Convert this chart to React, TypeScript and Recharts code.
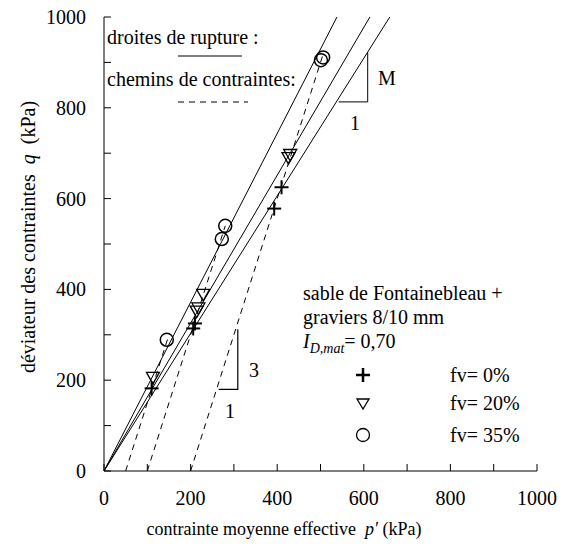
import { ComposedChart, Scatter, XAxis, YAxis } from "recharts";

// measured points (p', q) in kPa
const crosses = [
  { p: 110, q: 182 },
  { p: 206, q: 314 },
  { p: 210, q: 325 },
  { p: 393, q: 578 },
  { p: 410, q: 625 },
];
const triangles = [
  { p: 113, q: 205 },
  { p: 214, q: 351 },
  { p: 218, q: 358 },
  { p: 229, q: 388 },
  { p: 426, q: 689 },
  { p: 430, q: 696 },
];
const circles = [
  { p: 145, q: 289 },
  { p: 272, q: 511 },
  { p: 280, q: 540 },
  { p: 501, q: 905 },
  { p: 506, q: 911 },
];

// failure lines through the origin
const ruptureLines = [
  [{ p: 0, q: 0 }, { p: 660, q: 1000 }],
  [{ p: 0, q: 0 }, { p: 614, q: 1000 }],
  [{ p: 0, q: 0 }, { p: 538, q: 1000 }],
];
// stress paths, slope 3
const stressPaths = [
  [{ p: 50, q: 0 }, { p: 147, q: 291 }],
  [{ p: 100, q: 0 }, { p: 280, q: 540 }],
  [{ p: 200, q: 0 }, { p: 505, q: 915 }],
];
// slope marks
const slopeM = [{ p: 542, q: 813 }, { p: 609, q: 813 }, { p: 609, q: 922 }];
const slope3 = [{ p: 265, q: 180 }, { p: 309, q: 180 }, { p: 309, q: 312 }];

const xTicks = [0, 100, 200, 300, 400, 500, 600, 700, 800, 900, 1000];
const yTicks = [0, 100, 200, 300, 400, 500, 600, 700, 800, 900, 1000];

const FONT = "'Liberation Serif', 'Times New Roman', serif";
const TICK_LEN = 7;

const BottomTick = (props: any) => {
  const { x, y, payload } = props;
  return (
    <g>
      <line x1={x} y1={y} x2={x} y2={y - TICK_LEN} stroke="#000" />
      {payload.value % 200 === 0 && (
        <text x={x} y={y + 34} textAnchor="middle" fontSize={20} fontFamily={FONT} fill="#000">
          {payload.value}
        </text>
      )}
    </g>
  );
};

const LeftTick = (props: any) => {
  const { x, y, payload } = props;
  return (
    <g>
      <line x1={x} y1={y} x2={x + TICK_LEN} y2={y} stroke="#000" />
      {payload.value % 200 === 0 && (
        <text x={x - 18} y={y + 7} textAnchor="end" fontSize={20} fontFamily={FONT} fill="#000">
          {payload.value}
        </text>
      )}
    </g>
  );
};

const TopTick = (props: any) => {
  const { x, y } = props;
  return <line x1={x} y1={y} x2={x} y2={y + TICK_LEN} stroke="#000" />;
};

const RightTick = (props: any) => {
  const { x, y } = props;
  return <line x1={x} y1={y} x2={x - TICK_LEN} y2={y} stroke="#000" />;
};

const Cross = (props: any) => {
  const { cx, cy } = props;
  return (
    <g>
      <line x1={cx - 7} y1={cy} x2={cx + 7} y2={cy} stroke="#000" strokeWidth={2} />
      <line x1={cx} y1={cy - 7} x2={cx} y2={cy + 7} stroke="#000" strokeWidth={2} />
    </g>
  );
};

const Triangle = (props: any) => {
  const { cx, cy } = props;
  return (
    <polygon
      points={`${cx - 6.5},${cy - 5.5} ${cx + 6.5},${cy - 5.5} ${cx},${cy + 6}`}
      fill="none"
      stroke="#000"
      strokeWidth={1.3}
    />
  );
};

const Circle = (props: any) => {
  const { cx, cy } = props;
  return <circle cx={cx} cy={cy} r={6.5} fill="none" stroke="#000" strokeWidth={1.5} />;
};

const NoShape = () => <g />;

export default function App() {
  return (
    <div style={{ position: "absolute", left: 0, top: 0, width: 568, height: 555, background: "#fff" }}>
      <ComposedChart
        width={568}
        height={555}
        margin={{ top: 17, right: 31, bottom: 24, left: 24 }}
        style={{ fontFamily: FONT }}
      >
        <XAxis
          type="number"
          dataKey="p"
          domain={[0, 1000]}
          ticks={xTicks}
          interval={0}
          allowDataOverflow
          height={60}
          tickSize={0}
          tickMargin={0}
          tickLine={false}
          axisLine={{ stroke: "#000" }}
          tick={<BottomTick />}
        />
        <XAxis
          xAxisId="top"
          orientation="top"
          type="number"
          domain={[0, 1000]}
          ticks={xTicks}
          interval={0}
          height={0}
          tickSize={0}
          tickMargin={0}
          tickLine={false}
          axisLine={{ stroke: "#000" }}
          tick={<TopTick />}
        />
        <YAxis
          type="number"
          dataKey="q"
          domain={[0, 1000]}
          ticks={yTicks}
          interval={0}
          allowDataOverflow
          width={80}
          tickSize={0}
          tickMargin={0}
          tickLine={false}
          axisLine={{ stroke: "#000" }}
          tick={<LeftTick />}
        />
        <YAxis
          yAxisId="right"
          orientation="right"
          type="number"
          domain={[0, 1000]}
          ticks={yTicks}
          interval={0}
          width={0}
          tickSize={0}
          tickMargin={0}
          tickLine={false}
          axisLine={{ stroke: "#000" }}
          tick={<RightTick />}
        />

        {ruptureLines.map((d, i) => (
          <Scatter
            key={`r${i}`}
            data={d}
            line={{ stroke: "#000", strokeWidth: 1 }}
            shape={<NoShape />}
            isAnimationActive={false}
          />
        ))}
        {stressPaths.map((d, i) => (
          <Scatter
            key={`s${i}`}
            data={d}
            line={{ stroke: "#000", strokeWidth: 1, strokeDasharray: "6 5" }}
            shape={<NoShape />}
            isAnimationActive={false}
          />
        ))}
        <Scatter data={slopeM} line={{ stroke: "#000", strokeWidth: 1 }} shape={<NoShape />} isAnimationActive={false} />
        <Scatter data={slope3} line={{ stroke: "#000", strokeWidth: 1.2 }} shape={<NoShape />} isAnimationActive={false} />

        <Scatter data={crosses} shape={<Cross />} isAnimationActive={false} />
        <Scatter data={triangles} shape={<Triangle />} isAnimationActive={false} />
        <Scatter data={circles} shape={<Circle />} isAnimationActive={false} />
      </ComposedChart>

      <svg
        width={568}
        height={555}
        style={{ position: "absolute", left: 0, top: 0, pointerEvents: "none" }}
        fontFamily={FONT}
        fontSize={20}
        fill="#000"
      >
        {/* axis titles */}
        <text x={284} y={535} textAnchor="middle" fontSize={18} style={{ whiteSpace: "pre" }}>
          contrainte moyenne effective  <tspan fontStyle="italic">p′</tspan> (kPa)
        </text>
        <text
          transform="translate(35, 237) rotate(-90)"
          textAnchor="middle"
          fontSize={20}
          style={{ whiteSpace: "pre" }}
        >
          déviateur des contraintes  <tspan fontStyle="italic">q</tspan>  (kPa)
        </text>

        {/* key at top left */}
        <text x={107} y={44}>droites de rupture :</text>
        <line x1={178} y1={56} x2={242} y2={56} stroke="#000" />
        <text x={107} y={86}>chemins de contraintes:</text>
        <line x1={178} y1={102} x2={248} y2={102} stroke="#000" strokeDasharray="6 5" />

        {/* slope labels */}
        <text x={378} y={85}>M</text>
        <text x={350} y={130}>1</text>
        <text x={249} y={377}>3</text>
        <text x={225} y={418}>1</text>

        {/* material legend */}
        <text x={303} y={300}>sable de Fontainebleau +</text>
        <text x={303} y={324}>graviers 8/10 mm</text>
        <text x={303} y={348}>
          <tspan fontStyle="italic">I</tspan>
          <tspan fontStyle="italic" fontSize={14} dy={5}>D,mat</tspan>
          <tspan dy={-5}>= 0,70</tspan>
        </text>

        <line x1={356} y1={375} x2={370} y2={375} stroke="#000" strokeWidth={2.5} />
        <line x1={363} y1={368} x2={363} y2={382} stroke="#000" strokeWidth={2.5} />
        <text x={450} y={382}>fv= 0%</text>

        <polygon points="357,399 369,399 363,409" fill="none" stroke="#000" strokeWidth={1.3} />
        <text x={450} y={410}>fv= 20%</text>

        <circle cx={363} cy={435} r={6.5} fill="none" stroke="#000" strokeWidth={1.3} />
        <text x={450} y={442}>fv= 35%</text>
      </svg>
    </div>
  );
}
